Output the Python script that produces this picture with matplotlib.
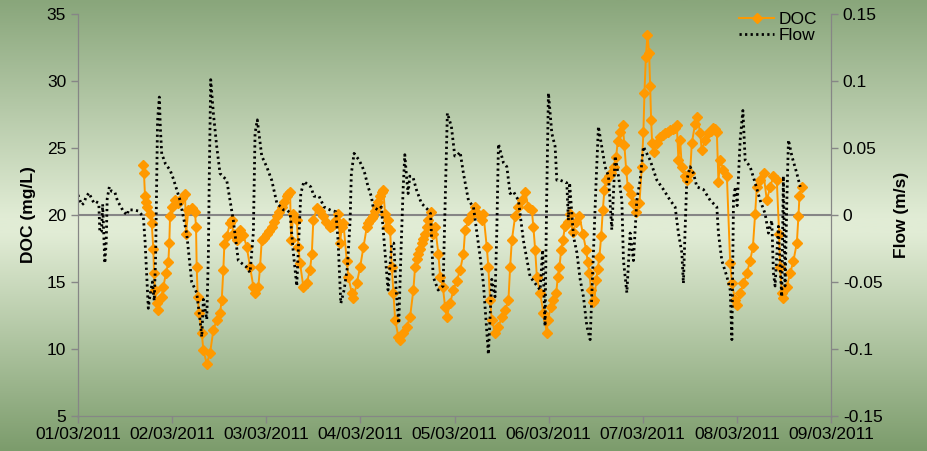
import numpy as np
import pandas as pd
import matplotlib
matplotlib.use('Agg')
import matplotlib.pyplot as plt
import matplotlib.dates as mdates
from matplotlib.colors import LinearSegmentedColormap

plt.rcParams['font.family'] = ['Liberation Sans', 'DejaVu Sans']

# days after 01/03/2011 00:00 and readings
doc_day = [0.688, 0.701, 0.712, 0.72, 0.73, 0.765, 0.783, 0.80, 0.808, 0.818, 0.836, 0.853, 0.889, 0.906,
           0.935, 0.96, 0.97, 0.978, 0.996, 1.031, 1.066, 1.102, 1.137, 1.148, 1.172, 1.208, 1.243, 1.254,
           1.261, 1.272, 1.286, 1.315, 1.332, 1.368, 1.403, 1.438, 1.474, 1.509, 1.527, 1.544, 1.555, 1.58,
           1.615, 1.633, 1.65, 1.686, 1.722, 1.757, 1.793, 1.828, 1.863, 1.881, 1.916, 1.934, 1.952, 1.98,
           2.005, 2.03, 2.058, 2.085, 2.112, 2.14, 2.165, 2.19, 2.218, 2.235, 2.253, 2.264, 2.288, 2.324,
           2.341, 2.359, 2.394, 2.43, 2.465, 2.484, 2.50, 2.537, 2.57, 2.607, 2.64, 2.678, 2.70, 2.72,
           2.74, 2.766, 2.784, 2.802, 2.82, 2.855, 2.872, 2.909, 2.926, 2.962, 2.997, 3.032, 3.068, 3.085,
           3.103, 3.12, 3.138, 3.155, 3.174, 3.19, 3.209, 3.225, 3.244, 3.262, 3.281, 3.298, 3.316, 3.334,
           3.351, 3.369, 3.404, 3.422, 3.457, 3.493, 3.528, 3.563, 3.581, 3.60, 3.616, 3.635, 3.653, 3.67,
           3.688, 3.705, 3.723, 3.748, 3.769, 3.794, 3.829, 3.847, 3.876, 3.90, 3.918, 3.953, 3.988, 4.024,
           4.06, 4.095, 4.113, 4.148, 4.184, 4.219, 4.254, 4.29, 4.307, 4.343, 4.36, 4.378, 4.396, 4.431,
           4.467, 4.503, 4.538, 4.573, 4.591, 4.609, 4.644, 4.679, 4.715, 4.75, 4.785, 4.821, 4.838, 4.857,
           4.875, 4.91, 4.945, 4.981, 4.991, 5.027, 5.045, 5.08, 5.098, 5.115, 5.133, 5.151, 5.175, 5.204,
           5.228, 5.257, 5.292, 5.328, 5.364, 5.398, 5.416, 5.433, 5.451, 5.473, 5.487, 5.505, 5.522, 5.54,
           5.558, 5.576, 5.593, 5.611, 5.638, 5.664, 5.69, 5.717, 5.735, 5.759, 5.788, 5.805, 5.824, 5.841,
           5.877, 5.901, 5.93, 5.965, 5.99, 6.007, 6.018, 6.033, 6.05, 6.068, 6.079, 6.089, 6.10, 6.121,
           6.156, 6.185, 6.21, 6.238, 6.265, 6.291, 6.32, 6.344, 6.362, 6.379, 6.397, 6.415, 6.45, 6.475,
           6.503, 6.521, 6.556, 6.581, 6.61, 6.627, 6.663, 6.698, 6.725, 6.751, 6.77, 6.787, 6.804, 6.822,
           6.857, 6.894, 6.929, 6.947, 6.982, 7.0, 7.035, 7.07, 7.106, 7.141, 7.17, 7.194, 7.212, 7.247,
           7.283, 7.318, 7.354, 7.388, 7.424, 7.449, 7.459, 7.477, 7.494, 7.53, 7.566, 7.601, 7.637, 7.654,
           7.665, 7.69]
doc_val = [23.7, 23.1, 21.4, 21.0, 20.6, 20.1, 19.4, 17.5, 15.65, 14.4, 13.4, 12.9, 13.9, 14.65,
           15.65, 16.5, 17.9, 19.9, 20.6, 21.1, 20.9, 21.25, 21.6, 18.6, 20.4, 20.5, 20.25, 19.1,
           16.1, 13.9, 12.7, 11.2, 9.9, 8.9, 9.7, 11.4, 12.2, 12.7, 13.65, 15.9, 17.8, 18.4,
           19.4, 19.6, 18.6, 18.1, 18.9, 18.5, 17.6, 16.1, 14.65, 14.15, 14.65, 16.1, 18.1, 18.3,
           18.6, 18.8, 19.1, 19.5, 19.9, 20.2, 20.6, 21.0, 21.4, 21.6, 21.75, 18.1, 20.1, 19.6,
           17.6, 16.4, 14.65, 14.9, 15.9, 17.1, 19.6, 20.5, 20.3, 19.9, 19.5, 19.1, 19.2, 19.3,
           19.6, 20.1, 17.9, 19.1, 19.4, 16.6, 15.4, 14.15, 13.8, 14.9, 16.1, 17.6, 19.1, 19.4,
           19.6, 19.8, 19.9, 20.3, 20.6, 21.0, 21.4, 21.7, 21.9, 20.1, 19.1, 19.6, 18.9, 16.1,
           14.15, 12.2, 10.9, 10.7, 11.2, 11.65, 12.4, 14.4, 16.1, 16.7, 17.1, 17.5, 17.9, 18.2,
           18.6, 19.1, 19.6, 20.25, 18.6, 19.1, 17.1, 15.4, 14.65, 13.15, 12.4, 13.4, 14.4, 15.1,
           15.9, 17.1, 18.9, 19.6, 20.1, 20.6, 20.1, 19.6, 20.1, 17.6, 16.1, 13.65, 12.2, 11.2,
           11.65, 12.4, 12.9, 13.65, 16.1, 18.1, 19.9, 20.6, 21.1, 21.75, 20.6, 20.4, 19.1, 17.4,
           15.4, 14.15, 12.7, 11.2, 12.2, 13.15, 13.65, 14.15, 15.4, 16.1, 17.4, 18.1, 19.2, 19.5,
           20.1, 18.7, 19.5, 19.9, 18.6, 17.4, 16.5, 15.65, 14.4, 13.5, 13.65, 15.15, 16.0, 16.9,
           18.4, 20.4, 21.9, 22.6, 22.9, 23.1, 23.6, 24.35, 25.5, 26.2, 26.7, 25.2, 23.35, 22.1,
           21.6, 20.9, 20.25, 20.9, 23.6, 26.2, 29.1, 31.8, 33.4, 32.1, 29.6, 27.1, 25.35, 24.7,
           25.35, 25.85, 26.0, 26.1, 26.2, 26.35, 26.4, 26.5, 26.7, 24.1, 25.6, 23.6, 22.9, 22.6,
           23.1, 25.35, 26.8, 27.3, 26.1, 24.85, 25.6, 26.1, 26.3, 26.5, 26.4, 26.2, 22.5, 24.1,
           23.35, 22.9, 16.4, 14.9, 13.65, 13.3, 14.15, 14.9, 15.65, 16.6, 17.6, 20.1, 22.1, 22.6,
           23.1, 21.1, 22.1, 22.9, 22.6, 18.6, 16.1, 14.15, 13.8, 14.65, 15.65, 16.6, 17.9, 19.9,
           21.4, 22.1]

flow_day = [0.0, 0.02, 0.04, 0.064, 0.085, 0.117, 0.146, 0.17, 0.19, 0.216, 0.222, 0.232, 0.25, 0.262,
            0.285, 0.30, 0.31, 0.333, 0.358, 0.393, 0.422, 0.457, 0.481, 0.524, 0.535, 0.588, 0.641, 0.694,
            0.712, 0.73, 0.747, 0.765, 0.79, 0.81, 0.825, 0.835, 0.845, 0.864, 0.875, 0.89, 0.91, 0.93,
            0.978, 1.013, 1.066, 1.084, 1.155, 1.208, 1.261, 1.296, 1.315, 1.332, 1.368, 1.385, 1.395, 1.405,
            1.41, 1.438, 1.474, 1.509, 1.58, 1.65, 1.703, 1.793, 1.828, 1.863, 1.881, 1.905, 1.952, 2.005,
            2.058, 2.112, 2.182, 2.224, 2.253, 2.285, 2.324, 2.35, 2.367, 2.40, 2.473, 2.508, 2.561, 2.614,
            2.686, 2.739, 2.763, 2.792, 2.827, 2.862, 2.891, 2.904, 2.933, 2.986, 3.021, 3.047, 3.082, 3.117,
            3.135, 3.188, 3.223, 3.252, 3.294, 3.334, 3.355, 3.38, 3.408, 3.432, 3.454, 3.472, 3.489, 3.507,
            3.525, 3.56, 3.595, 3.648, 3.719, 3.746, 3.773, 3.826, 3.879, 3.903, 3.924, 3.967, 4.003, 4.024,
            4.06, 4.095, 4.148, 4.201, 4.272, 4.307, 4.36, 4.396, 4.431, 4.449, 4.467, 4.52, 4.556, 4.591,
            4.626, 4.679, 4.732, 4.803, 4.857, 4.91, 4.936, 4.962, 4.979, 4.998, 5.034, 5.069, 5.087, 5.122,
            5.193, 5.21, 5.223, 5.264, 5.30, 5.335, 5.37, 5.406, 5.441, 5.476, 5.505, 5.529, 5.565, 5.60,
            5.636, 5.671, 5.707, 5.742, 5.778, 5.795, 5.831, 5.866, 5.901, 5.937, 5.972, 6.007, 6.078, 6.15,
            6.22, 6.291, 6.344, 6.379, 6.415, 6.432, 6.45, 6.468, 6.503, 6.539, 6.575, 6.645, 6.716, 6.787,
            6.804, 6.84, 6.894, 6.929, 6.947, 6.964, 6.982, 7.003, 7.035, 7.064, 7.088, 7.141, 7.194, 7.247,
            7.30, 7.335, 7.371, 7.388, 7.406, 7.441, 7.459, 7.477, 7.494, 7.512, 7.531, 7.548, 7.584, 7.637,
            7.673]
flow_val = [0.015, 0.011, 0.0075, 0.009, 0.0135, 0.0165, 0.012, 0.009, 0.010, 0.009, 0.007, -0.013, -0.012, 0.008,
            -0.036, -0.02, 0.012, 0.021, 0.0175, 0.0167, 0.010, 0.0062, 0.0025, 0.0, 0.0038, 0.0038, 0.003, -0.0012,
            -0.019, -0.045, -0.0696, -0.06, -0.05, -0.064, -0.03, 0.02, 0.07, 0.088, 0.065, 0.045, 0.042, 0.038,
            0.0336, 0.027, 0.015, 0.011, -0.014, -0.050, -0.058, -0.078, -0.091, -0.063, -0.078, -0.03, 0.03, 0.08,
            0.101, 0.076, 0.051, 0.031, 0.026, -0.004, -0.034, -0.039, -0.043, -0.013, 0.061, 0.071, 0.044, 0.036,
            0.026, 0.009, 0.0038, 0.0035, 0.0015, -0.026, -0.053, -0.011, 0.016, 0.025, 0.021, 0.014, 0.014, 0.006,
            0.0035, 0.0025, -0.019, -0.066, -0.056, -0.039, -0.004, 0.031, 0.046, 0.041, 0.036, 0.031, 0.021, 0.0137,
            0.006, 0.0038, 0.006, -0.019, -0.056, -0.021, -0.021, -0.056, -0.081, -0.026, 0.019, 0.045, 0.030, 0.016,
            0.029, 0.028, 0.019, 0.0088, 0.0038, 0.001, -0.046, -0.056, -0.053, 0.016, 0.076, 0.066, 0.044, 0.044,
            0.047, 0.031, 0.011, 0.006, -0.031, -0.051, -0.104, -0.048, -0.061, -0.0135, 0.053, 0.039, 0.036, 0.016,
            0.0175, 0.011, -0.019, -0.046, -0.051, -0.056, -0.026, -0.083, 0.011, 0.091, 0.061, 0.051, 0.026, 0.026,
            0.024, -0.004, 0.024, -0.016, -0.028, -0.048, -0.061, -0.083, -0.093, -0.028, 0.026, 0.066, 0.051, 0.036,
            0.029, -0.011, 0.044, 0.029, 0.011, -0.034, -0.058, -0.0135, -0.034, 0.011, 0.026, 0.051, 0.041, 0.026,
            0.019, 0.011, 0.006, -0.0135, -0.028, -0.051, -0.011, 0.026, 0.036, 0.031, 0.021, 0.019, 0.011, 0.006,
            -0.0135, -0.034, -0.046, -0.056, -0.093, 0.011, 0.021, 0.007, 0.056, 0.078, 0.041, 0.036, 0.024, 0.011,
            0.001, -0.0135, -0.004, -0.043, -0.053, -0.0085, -0.039, -0.061, 0.029, -0.053, 0.011, 0.056, 0.044, 0.031,
            0.021]

start = pd.Timestamp('2011-03-01')
doc_t = start + pd.to_timedelta(doc_day, unit='D')
flow_t = start + pd.to_timedelta(flow_day, unit='D')

fig = plt.figure(figsize=(9.28, 4.51), dpi=100)

# green gradient backdrop
bg = fig.add_axes([0, 0, 1, 1], zorder=-10)
grad = LinearSegmentedColormap.from_list('g', [(0.0, '#89a67b'), (0.48, '#e1ecd5'), (0.52, '#e1ecd5'), (1.0, '#7c9c6c')])
bg.imshow(np.linspace(0, 1, 256).reshape(-1, 1), aspect='auto', cmap=grad, extent=[0, 1, 0, 1])
bg.axis('off')

ax = fig.add_axes([78/928, 1-416/451, (831-78)/928, (416-14)/451])
ax.set_facecolor('none')
ax2 = ax.twinx()

gray = '#868686'
ax.axhline(20, color=gray, lw=1.5, zorder=1)
l1, = ax.plot(doc_t, doc_val, color='#ff9900', lw=1.4, marker='D', ms=5, mec='#ff9900', zorder=3, label='DOC')
l2, = ax2.plot(flow_t, flow_val, color='black', lw=2, linestyle=(0, (0.8, 1.2)), label='Flow')

ax.set_ylim(5, 35)
ax.set_yticks(range(5, 40, 5))
ax2.set_ylim(-0.15, 0.15)
ax2.set_yticks([-0.15, -0.1, -0.05, 0, 0.05, 0.1, 0.15])
ax2.set_yticklabels(['-0.15', '-0.1', '-0.05', '0', '0.05', '0.1', '0.15'])
ax.set_xlim(start, start + pd.Timedelta(days=8))
ax.xaxis.set_major_locator(mdates.DayLocator())
ax.xaxis.set_major_formatter(mdates.DateFormatter('%d/%m/%Y'))

for a in (ax, ax2):
    for s in a.spines.values():
        s.set_color(gray)
    a.spines['top'].set_visible(False)
    a.tick_params(colors=gray, labelcolor='black', labelsize=12.5, length=5, width=1)
ax.tick_params(axis='x', pad=3)

ax.set_ylabel('DOC (mg/L)', fontsize=12.5, fontweight='bold', labelpad=8)
ax2.set_ylabel('Flow (m/s)', fontsize=12.5, fontweight='bold', labelpad=8)

fig.legend([l1, l2], ['DOC', 'Flow'], loc='upper left', bbox_to_anchor=(727/928, 1.0),
           frameon=False, fontsize=12.5, handlelength=2.0, handletextpad=0.3, labelspacing=0.05,
           borderpad=0.2)

fig.savefig('out.png', dpi=100)
